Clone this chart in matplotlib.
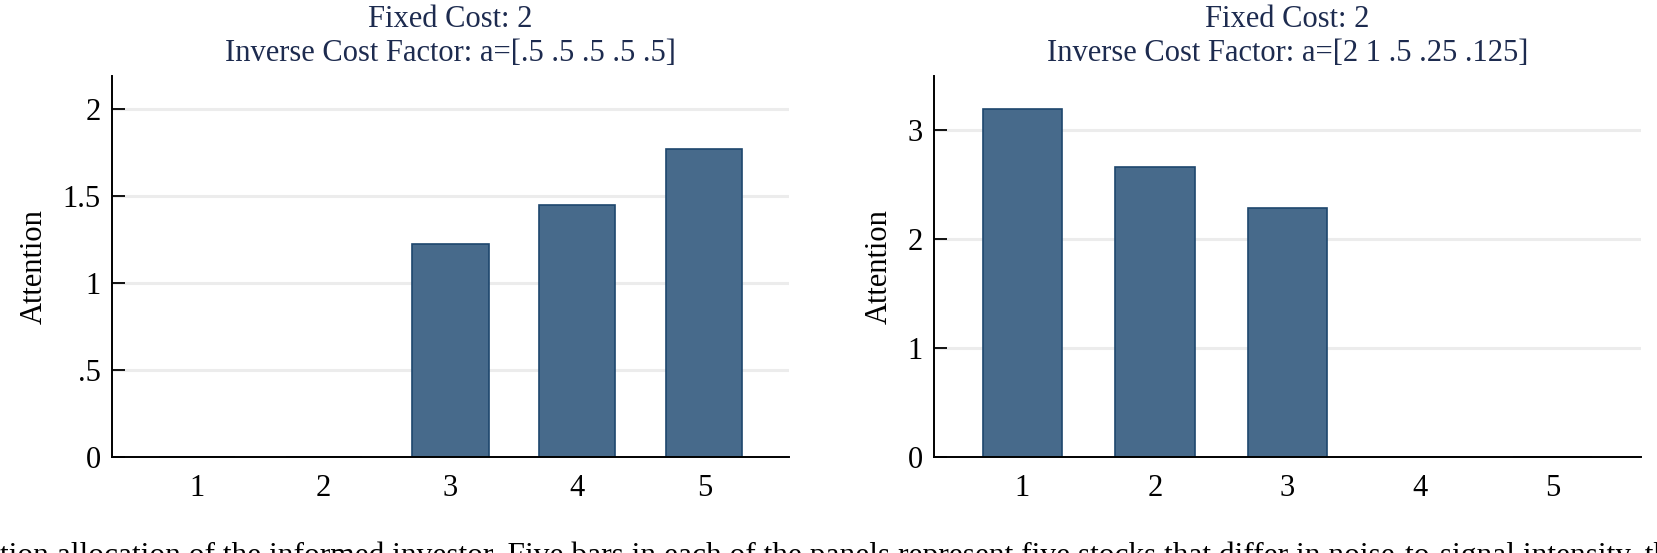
import matplotlib
matplotlib.use("Agg")
import matplotlib.pyplot as plt

plt.rcParams['font.family'] = ['Liberation Serif', 'DejaVu Serif']

# ---- data ----
stocks = [1, 2, 3, 4, 5]
tick_labels = ["1", "2", "3", "4", "5"]

left_values = [0.0, 0.0, 1.224, 1.449, 1.771]
right_values = [3.196, 2.663, 2.283, 0.0, 0.0]

left_title = ["Fixed Cost: 2", "Inverse Cost Factor: a=[.5 .5 .5 .5 .5]"]
right_title = ["Fixed Cost: 2", "Inverse Cost Factor: a=[2 1 .5 .25 .125]"]

left_yticks = [0, 0.5, 1, 1.5, 2]
left_yticklabels = ["0", ".5", "1", "1.5", "2"]
right_yticks = [0, 1, 2, 3]
right_yticklabels = ["0", "1", "2", "3"]

caption = ("tion allocation of the informed investor. Five bars in each of the "
           "panels represent five stocks that differ in noise-to-signal intensity, the")

# ---- style ----
W, H = 1657, 553
BAR_FACE = "#476a8b"
BAR_EDGE = "#1e476d"
TITLE_COLOR = "#1d2b4f"
GRID_COLOR = "#ececec"
FS = 22

fig = plt.figure(figsize=(W / 100, H / 100), dpi=100)


def make_panel(rect, values, ylim, yticks, yticklabels, title_lines):
    ax = fig.add_axes(rect)
    ax.bar(stocks, values, width=0.6, color=BAR_FACE, edgecolor=BAR_EDGE,
           linewidth=1.2, zorder=2)
    ax.set_xlim(0.333, 5.667)
    ax.set_ylim(*ylim)
    ax.set_xticks(stocks)
    ax.set_xticklabels(tick_labels)
    ax.set_yticks(yticks)
    ax.set_yticklabels(yticklabels)
    ax.tick_params(axis='x', length=0, pad=12, labelsize=FS)
    ax.tick_params(axis='y', direction='in', length=9, width=1.3, pad=8,
                   labelsize=FS)
    for s in ("top", "right"):
        ax.spines[s].set_visible(False)
    for s in ("left", "bottom"):
        ax.spines[s].set_linewidth(1.4)
        ax.spines[s].set_zorder(3)
    ax.yaxis.grid(True, color=GRID_COLOR, linewidth=2.2, zorder=0)
    ax.set_axisbelow(True)
    ax.set_ylabel("Attention", fontsize=FS, labelpad=10)
    cx = rect[0] + rect[2] / 2
    fig.text(cx, 1 - 27 / H, title_lines[0], ha='center', va='baseline',
             fontsize=FS, color=TITLE_COLOR)
    fig.text(cx, 1 - 61 / H, title_lines[1], ha='center', va='baseline',
             fontsize=FS, color=TITLE_COLOR)
    return ax


bottom = 1 - 457 / H
height = (457 - 76) / H

make_panel([112 / W, bottom, (789 - 112) / W, height], left_values,
           (0, 2.19), left_yticks, left_yticklabels, left_title)
make_panel([934 / W, bottom, (1641 - 934) / W, height], right_values,
           (0, 3.5), right_yticks, right_yticklabels, right_title)

fig.text(0.0, 1 - 564 / H, caption, ha='left', va='baseline', fontsize=22.6,
         color='black')

fig.savefig("out.png", dpi=100)
